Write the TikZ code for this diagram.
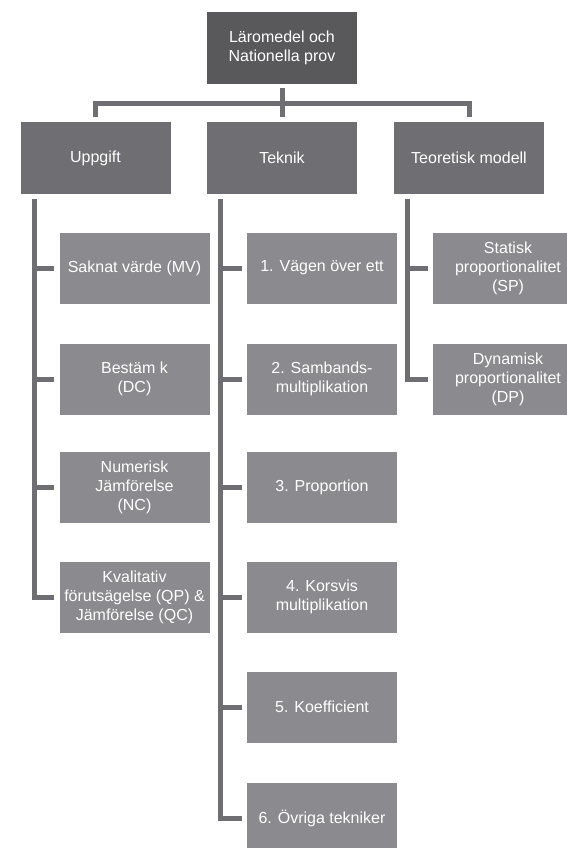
\documentclass[tikz,border=0pt]{standalone}
\usepackage{fontspec}
\setmainfont{Liberation Sans}
\definecolor{cTop}{RGB}{89,89,92}
\definecolor{cMid}{RGB}{111,111,115}
\definecolor{cLeaf}{RGB}{139,139,143}
\definecolor{cLine}{RGB}{111,111,115}
\tikzset{
  basebox/.style={minimum width=150pt, minimum height=72pt, inner sep=2pt, align=center,
    text=white, font=\fontsize{16}{19}\selectfont},
  topbox/.style={basebox, fill=cTop},
  midbox/.style={basebox, fill=cMid},
  leafbox/.style={basebox, fill=cLeaf, minimum height=71pt},
  conn/.style={draw=cLine, line width=5pt, line join=miter, line cap=butt}
}
\begin{document}
\begin{tikzpicture}[x=1pt,y=-1pt]
\useasboundingbox (0,0) rectangle (567,848);
\clip (0,0) rectangle (567,848);
% level 0 and 1
\node[topbox] (top) at (282,48) {Läromedel och\\Nationella prov};
\node[midbox] (upp) at (95.5,158) {Uppgift};
\node[midbox] (tek) at (282,158) {Teknik};
\node[midbox] (teo) at (469,158) {Teoretisk modell};
% level 2: Uppgift
\node[leafbox] (u1) at (134.5,268) {Saknat värde (MV)};
\node[leafbox] (u2) at (134.5,379) {Bestäm k\\(DC)};
\node[leafbox] (u3) at (134.5,487) {Numerisk\\Jämförelse\\(NC)};
\node[leafbox] (u4) at (134.5,597) {Kvalitativ\\förutsägelse (QP) \&\\Jämförelse (QC)};
% level 2: Teknik
\node[leafbox] (t1) at (322,268) {1. Vägen över ett};
\node[leafbox] (t2) at (322,379) {2. Sambands-\\multiplikation};
\node[leafbox] (t3) at (322,487) {3. Proportion};
\node[leafbox] (t4) at (322,597) {4. Korsvis\\multiplikation};
\node[leafbox] (t5) at (322,707) {5. Koefficient};
\node[leafbox] (t6) at (322,818) {6. Övriga tekniker};
% level 2: Teoretisk modell
\node[leafbox] (m1) at (508,268) {Statisk\\proportionalitet\\(SP)};
\node[leafbox] (m2) at (508,379) {Dynamisk\\proportionalitet\\(DP)};
% top connectors
\coordinate (bar) at (282,104);
\draw[conn] ([yshift=-4pt]top.south) -- ([yshift=5pt]tek.north);
\draw[conn] ([yshift=5pt]upp.north) -- (upp.north |- bar) -- (teo.north |- bar) -- ([yshift=5pt]teo.north);
% column spines
\coordinate (ux) at ([xshift=14pt,yshift=-5pt]upp.south west);
\coordinate (tx) at ([xshift=14pt,yshift=-5pt]tek.south west);
\coordinate (mx) at ([xshift=14pt,yshift=-5pt]teo.south west);
\draw[conn] (ux) |- ([xshift=-5pt]u4.west);
\foreach \n in {u1,u2,u3}{\draw[conn] (ux |- \n.west) -- ([xshift=-5pt]\n.west);}
\draw[conn] (tx) |- ([xshift=-5pt]t6.west);
\foreach \n in {t1,t2,t3,t4,t5}{\draw[conn] (tx |- \n.west) -- ([xshift=-5pt]\n.west);}
\draw[conn] (mx) |- ([xshift=-5pt]m2.west);
\draw[conn] (mx |- m1.west) -- ([xshift=-5pt]m1.west);
\end{tikzpicture}
\end{document}
